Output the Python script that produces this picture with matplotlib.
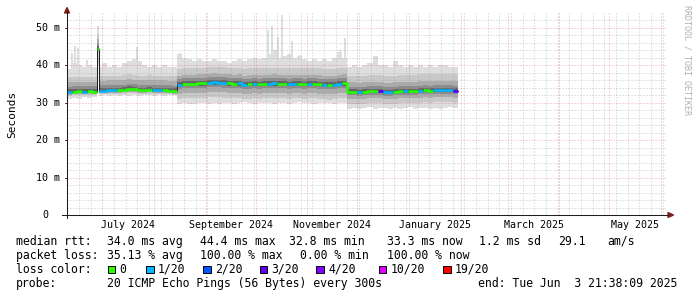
import matplotlib
matplotlib.use('Agg')
import matplotlib.pyplot as plt
import matplotlib.dates as mdates
import matplotlib.transforms as mtrans
from matplotlib.patches import Rectangle, Polygon
from matplotlib.lines import Line2D
import numpy as np
import pandas as pd

W, H = 697, 297
MONO = 'DejaVu Sans Mono'

# 360 day view ending at the probe time
end_time = pd.Timestamp('2025-06-03 21:38:09')
start_time = end_time - pd.Timedelta(days=359)

# smoke data, one value per 3 day bin from 2024-06-10
first_bin = pd.Timestamp('2024-06-10')
bin_days = 3
seg_bins = [22, 34, 22]   # bins per route segment

median_ms = [32.8, 32.9, 33.0, 32.9, 33.0, 32.9, 33.2, 33.2, 33.3, 33.3, 33.3,
             33.4, 33.6, 33.5, 33.3, 33.3, 33.4, 33.3, 33.3, 33.3, 33.2, 33.1,
             34.8, 35.0, 35.0, 35.0, 35.1, 35.1, 35.3, 35.4, 35.3, 35.2, 35.1,
             35.0, 35.1, 34.8, 34.9, 35.0, 34.9, 35.0, 35.0, 35.1, 35.0, 35.0,
             34.9, 35.0, 35.0, 34.9, 35.0, 35.0, 34.9, 34.8, 34.7, 34.8, 35.0, 35.1,
             32.9, 32.9, 32.8, 32.9, 33.0, 33.0, 33.1, 32.8, 32.8, 32.9, 33.0,
             33.0, 33.1, 33.1, 33.2, 33.3, 33.2, 33.3, 33.3, 33.3, 33.3, 33.2]
loss_idx = [1, 0, 0, 1, 0, 0, 1, 1, 1, 1, 0, 0, 0, 0, 0, 0, 0, 1, 1, 0, 0, 0,
            1, 0, 0, 0, 0, 0, 1, 1, 1, 1, 0, 0, 1, 1, 0, 1, 0, 0, 1, 1, 0, 0, 1,
            1, 0, 0, 1, 0, 0, 1, 0, 1, 1, 0,
            0, 0, 1, 0, 0, 0, 3, 1, 1, 0, 0, 1, 0, 0, 1, 0, 0, 1, 1, 1, 1, 3]
top_ms = [39.0, 40.5, 40.0, 39.5, 40.0, 39.5, 39.5, 40.5, 39.5, 40.0, 39.5,
          40.5, 41.0, 41.5, 41.0, 40.0, 39.5, 40.0, 39.5, 40.0, 39.5, 39.5,
          43.0, 42.0, 41.5, 41.0, 41.5, 41.0, 41.0, 41.5, 41.0, 41.0, 40.5,
          41.0, 41.5, 41.0, 41.5, 42.0, 41.5, 42.0, 43.0, 44.0, 42.0, 42.5,
          43.0, 42.0, 42.5, 41.5, 41.0, 41.5, 41.0, 41.5, 41.0, 42.0, 43.5, 42.0,
          39.5, 40.0, 39.5, 40.0, 40.5, 42.5, 40.0, 40.0, 39.5, 41.0, 40.0,
          39.5, 40.0, 39.5, 40.0, 39.5, 40.0, 39.5, 40.0, 40.0, 39.5, 39.5]
bottom_ms = [31.0, 31.3, 30.9, 31.4, 31.2, 31.5, 31.8, 31.9, 31.7, 32.0, 31.8,
             31.9, 31.7, 32.0, 31.8, 31.9, 32.0, 31.8, 31.9, 31.7, 31.9, 32.0,
             29.6, 29.8, 29.5, 29.7, 29.9, 30.0, 29.6, 29.8, 29.7, 30.0, 29.9,
             29.6, 29.8, 30.1, 29.9, 29.7, 30.0, 29.8, 29.9, 29.6, 29.8, 30.0,
             29.7, 29.9, 30.1, 29.8, 29.9, 29.7, 30.0, 29.8, 29.9, 29.7, 30.0, 29.8,
             28.4, 28.6, 28.3, 28.5, 28.7, 28.4, 28.6, 28.5, 28.3, 28.6, 28.4,
             28.5, 28.7, 28.4, 28.6, 28.5, 28.3, 28.6, 28.4, 28.5, 28.7, 28.6]

# inner smoke layers: spread below / above the median per segment (ms)
layer_lo = [[-1.0, -0.7, -0.5, -0.3, -0.1],
            [-3.9, -2.5, -1.2, -0.6, -0.2],
            [-3.2, -1.9, -1.0, -0.5, -0.2]]
layer_hi = [[3.9, 2.6, 1.4, 0.7, 0.25],
            [4.2, 2.4, 1.5, 0.7, 0.25],
            [4.3, 2.5, 1.3, 0.6, 0.25]]
smoke_colors = ['#dedede', '#c8c8c8', '#ababab', '#8c8c8c', '#666666', '#3c3c3c']

# single max-ping spikes
spike_dates = ['2024-06-12', '2024-06-14', '2024-06-16', '2024-06-21', '2024-07-21',
               '2024-08-16', '2024-10-08', '2024-10-10', '2024-10-14', '2024-10-16',
               '2024-10-22', '2024-10-27', '2024-11-20', '2024-11-23']
spike_ms = [43.2, 45.1, 44.5, 41.4, 44.7, 43.3, 49.4, 50.3, 47.6, 53.4,
            46.3, 42.7, 44.0, 47.3]

# the one big median jump
jump_date = '2024-06-28'
jump_median = 44.4
jump_top = 50.5
jump_bottom = 40.0

loss_colors = ['#26ff00', '#00b8ff', '#0059ff', '#5e00ff', '#7e00ff', '#dd00ff', '#ff0000']
loss_labels = ['0', '1/20', '2/20', '3/20', '4/20', '10/20', '19/20']

# ---- build step series with the jump column inserted
edges = mdates.date2num(first_bin) + bin_days * np.arange(len(median_ms) + 1)
seg = list(np.repeat([0, 1, 2], seg_bins))
j0 = mdates.date2num(pd.Timestamp(jump_date))
j1 = j0 + 1.3
k = int(np.searchsorted(edges, j0, side='right') - 1)

def ins(vals, v):
    return list(vals[:k + 1]) + [v] + list(vals[k:])

e2 = np.array(list(edges[:k + 1]) + [j0, j1] + list(edges[k + 1:]))
med = np.array(ins(median_ms, jump_median))
loss = ins(loss_idx, 0)
top = np.array(ins(top_ms, jump_top))
bot = np.array(ins(bottom_ms, jump_bottom))
sg = ins(seg, 0)

fig = plt.figure(figsize=(W / 100, H / 100), dpi=100)
fig.patch.set_facecolor('white')
ax = fig.add_axes([67 / W, 1 - 215 / H, 599 / W, 202 / H])
ax.set_xlim(mdates.date2num(start_time), mdates.date2num(end_time))
ax.set_ylim(0, 53.9)
ax.axis('off')

def ext(a):
    return np.append(a, a[-1])

# spikes
for d, v in zip(spike_dates, spike_ms):
    t = mdates.date2num(pd.Timestamp(d))
    i = int(np.searchsorted(e2, t, side='right') - 1)
    ax.bar(t, v - med[i], bottom=med[i], width=1.2, align='edge',
           color=smoke_colors[0], lw=0, zorder=1)

# smoke
ax.fill_between(e2, ext(bot), ext(top), step='post', color=smoke_colors[0], lw=0, zorder=2)
for n in range(5):
    lo = np.array([m + layer_lo[s][n] for m, s in zip(med, sg)])
    hi = np.array([m + layer_hi[s][n] for m, s in zip(med, sg)])
    lo = np.clip(lo, bot, top)
    hi = np.clip(hi, bot, top)
    ax.fill_between(e2, ext(lo), ext(hi), step='post', color=smoke_colors[n + 1],
                    lw=0, zorder=3 + n)

# grid on top of smoke, dotted
GRID = dict(color='#9a9a9a', alpha=0.55, lw=0.72, ls=(0, (1, 2)), zorder=10)
MGRID = dict(color='#e05050', alpha=0.5, lw=0.72, ls=(0, (1, 2)), zorder=10)
for v in range(2, 54, 2):
    ax.axhline(v, **(MGRID if v % 10 == 0 else GRID))
for d in pd.date_range('2024-06-10', end_time, freq='W-MON'):
    if d.day != 1:
        ax.axvline(mdates.date2num(d), **GRID)
for d in pd.date_range('2024-07-01', end_time, freq='MS'):
    ax.axvline(mdates.date2num(d), **MGRID)

# median: thin dark line, then coloured by loss
ax.step(e2, ext(med), where='post', color='#202020', lw=0.75, zorder=11)
i = 0
while i < len(med):
    j = i
    while j + 1 < len(med) and loss[j + 1] == loss[i]:
        j += 1
    ax.step(e2[i:j + 2], ext(med[i:j + 1]), where='post', color=loss_colors[loss[i]],
            lw=1.9, solid_capstyle='butt', zorder=12)
    i = j + 1

# axes, arrows (pixel coordinates)
idt = mtrans.IdentityTransform()
fig.add_artist(Line2D([62, 668], [H - 215, H - 215], color='#1f1f1f', lw=0.75, transform=idt))
fig.add_artist(Line2D([67, 67], [H - 218, H - 11], color='#1f1f1f', lw=0.75, transform=idt))
fig.add_artist(Polygon([[668, H - 212.5], [668, H - 217.5], [673.5, H - 215]],
                       closed=True, color='#7f1f1f', transform=idt))
fig.add_artist(Polygon([[64.5, H - 13], [69.5, H - 13], [67, H - 7.5]],
                       closed=True, color='#7f1f1f', transform=idt))

# y labels
ylab_tr = mtrans.blended_transform_factory(idt, ax.transData)
for v in range(0, 60, 10):
    if v == 0:
        ax.text(48, v, '0', transform=ylab_tr, ha='right', va='center',
                family=MONO, fontsize=7.2)
    else:
        ax.text(60, v, '%d m' % v, transform=ylab_tr, ha='right', va='center',
                family=MONO, fontsize=7.2)
        fig.add_artist(Line2D([64.5, 67], [H - 215 + v * 202 / 53.9] * 2,
                              color='#1f1f1f', lw=0.6, transform=idt))

# month labels centred in odd months
xlab_tr = mtrans.blended_transform_factory(ax.transData, idt)
for d in pd.date_range('2024-07-01', '2025-05-01', freq='2MS'):
    mid = mdates.date2num(d) + d.days_in_month / 2
    ax.text(mid, H - 228, d.strftime('%B %Y'), transform=xlab_tr, ha='center',
            va='baseline', family=MONO, fontsize=7.2)

fig.text(12 / W, 1 - 114 / H, 'Seconds', rotation=90, ha='center', va='center',
         family=MONO, fontsize=8)
fig.text(686.5 / W, 1 - 60 / H, 'RRDTOOL / TOBI OETIKER', rotation=270, ha='center',
         va='center', family=MONO, fontsize=6, color='#b0b0b0')

# legend rows
def put(x, y, s):
    fig.text(x / W, 1 - y / H, s, ha='left', va='baseline', family=MONO, fontsize=8.3)

put(16, 245, 'median rtt:')
for x, s in zip([107, 200, 289, 387, 479, 558, 607],
                ['34.0 ms avg', '44.4 ms max', '32.8 ms min', '33.3 ms now',
                 '1.2 ms sd', '29.1', 'am/s']):
    put(x, 245, s)
put(16, 259, 'packet loss:')
for x, s in zip([107, 200, 300, 387],
                ['35.13 % avg', '100.00 % max', '0.00 % min', '100.00 % now']):
    put(x, 259, s)
put(16, 273, 'loss color:')
for x, c, s in zip([107.5, 146, 203, 259.5, 316, 378.5, 443], loss_colors, loss_labels):
    fig.add_artist(Rectangle((x, H - 273), 7.5, 7.5, facecolor=c, edgecolor='black',
                             lw=0.7, transform=idt))
    put(x + 12, 273, s)
put(16, 287, 'probe:')
put(107, 287, '20 ICMP Echo Pings (56 Bytes) every 300s')
put(478, 287, 'end: Tue Jun  3 21:38:09 2025')

fig.savefig('out.png', dpi=100, facecolor='white')
